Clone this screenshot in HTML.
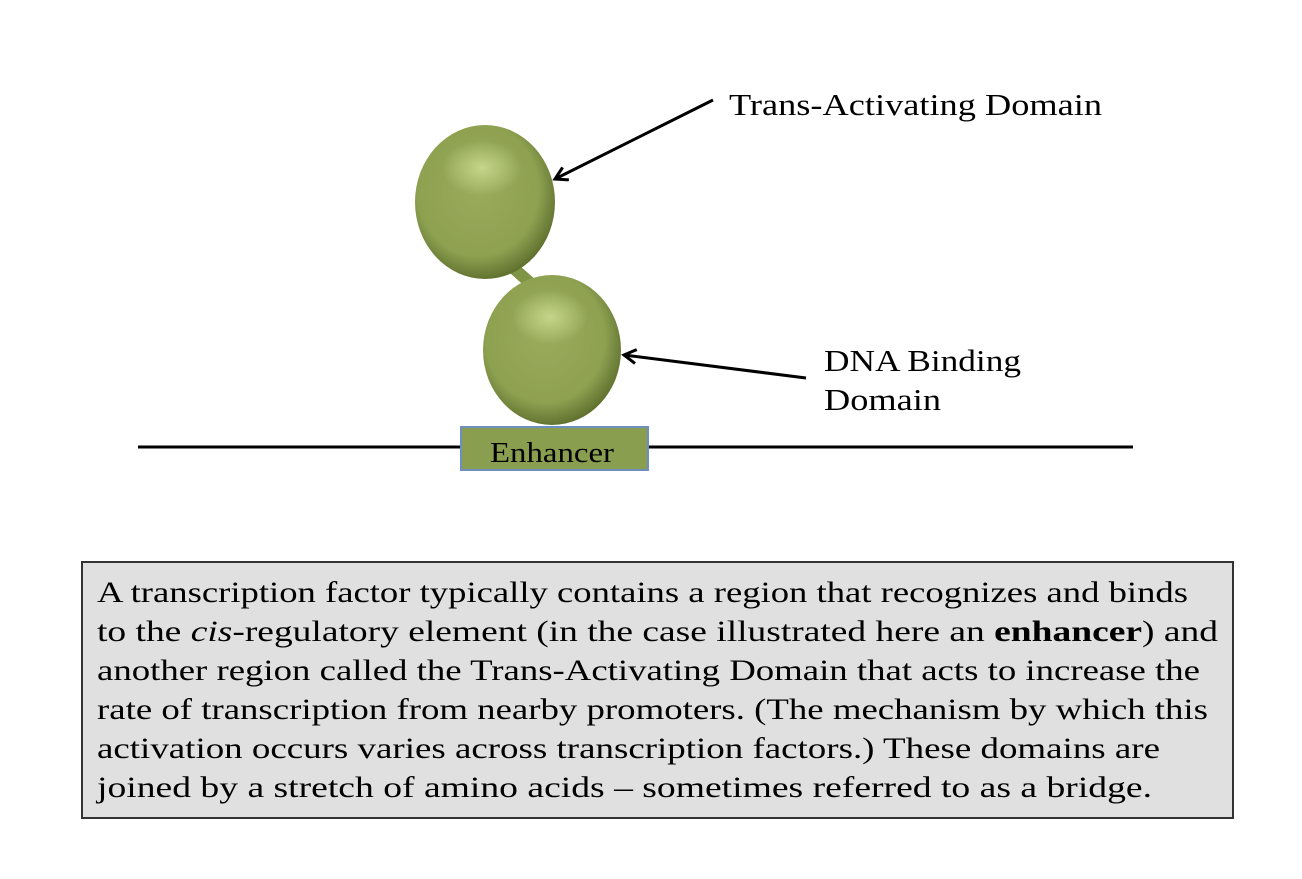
<!DOCTYPE html>
<html><head><meta charset="utf-8"><style>
html,body{margin:0;padding:0;background:#fff}
svg{display:block}
text{font-family:"Liberation Serif",serif;fill:#000}
</style></head><body>
<svg width="1302" height="879" viewBox="0 0 1302 879" xmlns="http://www.w3.org/2000/svg">
<defs>
<radialGradient id="g" cx="0.45" cy="0.42" r="0.6">
<stop offset="0" stop-color="#9aab5c"/>
<stop offset="0.72" stop-color="#8ea151"/>
<stop offset="1" stop-color="#5d6e2c"/>
</radialGradient>
<radialGradient id="h" cx="0.5" cy="0.5" r="0.5">
<stop offset="0" stop-color="#d9eaa0" stop-opacity="0.7"/>
<stop offset="1" stop-color="#d9eaa0" stop-opacity="0"/>
</radialGradient>
<marker id="a" markerWidth="16" markerHeight="16" refX="13" refY="8" orient="auto" markerUnits="userSpaceOnUse">
<path d="M1,1 L13,8 L1,15" fill="none" stroke="#000" stroke-width="3"/>
</marker>
</defs>
<line x1="138" y1="447" x2="1133" y2="447" stroke="#000" stroke-width="3"/>
<line x1="510" y1="265" x2="538" y2="290" stroke="#7f9444" stroke-width="12"/>
<ellipse cx="485" cy="202" rx="70" ry="77" fill="url(#g)"/>
<ellipse cx="482" cy="168" rx="40" ry="28" fill="url(#h)"/>
<ellipse cx="552" cy="350" rx="69" ry="75" fill="url(#g)"/>
<ellipse cx="550" cy="317" rx="38" ry="27" fill="url(#h)"/>
<rect x="461" y="427" width="187" height="43" fill="#8a9e4f" stroke="#6f8fc0" stroke-width="2"/>
<text x="552" y="462" font-size="28" text-anchor="middle" textLength="124" lengthAdjust="spacingAndGlyphs">Enhancer</text>
<line x1="713" y1="100" x2="555" y2="179" stroke="#000" stroke-width="3" marker-end="url(#a)"/>
<line x1="806" y1="378" x2="624" y2="355" stroke="#000" stroke-width="3" marker-end="url(#a)"/>
<text x="729" y="115" font-size="31" textLength="373" lengthAdjust="spacingAndGlyphs">Trans-Activating Domain</text>
<text x="824" y="371" font-size="31" textLength="197" lengthAdjust="spacingAndGlyphs">DNA Binding</text>
<text x="824" y="410" font-size="31" textLength="117" lengthAdjust="spacingAndGlyphs">Domain</text>
<rect x="82" y="562" width="1151" height="256" fill="#e0e0e0" stroke="#333" stroke-width="2"/>
<g font-size="30">
<text x="97" y="602" textLength="1091" lengthAdjust="spacingAndGlyphs">A transcription factor typically contains a region that recognizes and binds</text>
<text x="97" y="641" textLength="1121" lengthAdjust="spacingAndGlyphs">to the <tspan font-style="italic">cis</tspan>-regulatory element (in the case illustrated here an <tspan font-weight="bold">enhancer</tspan>) and</text>
<text x="97" y="680" textLength="1103" lengthAdjust="spacingAndGlyphs">another region called the Trans-Activating Domain that acts to increase the</text>
<text x="97" y="719" textLength="1111" lengthAdjust="spacingAndGlyphs">rate of transcription from nearby promoters. (The mechanism by which this</text>
<text x="97" y="758" textLength="1063" lengthAdjust="spacingAndGlyphs">activation occurs varies across transcription factors.) These domains are</text>
<text x="97" y="797" textLength="1055" lengthAdjust="spacingAndGlyphs">joined by a stretch of amino acids – sometimes referred to as a bridge.</text>
</g>
</svg>
</body></html>
